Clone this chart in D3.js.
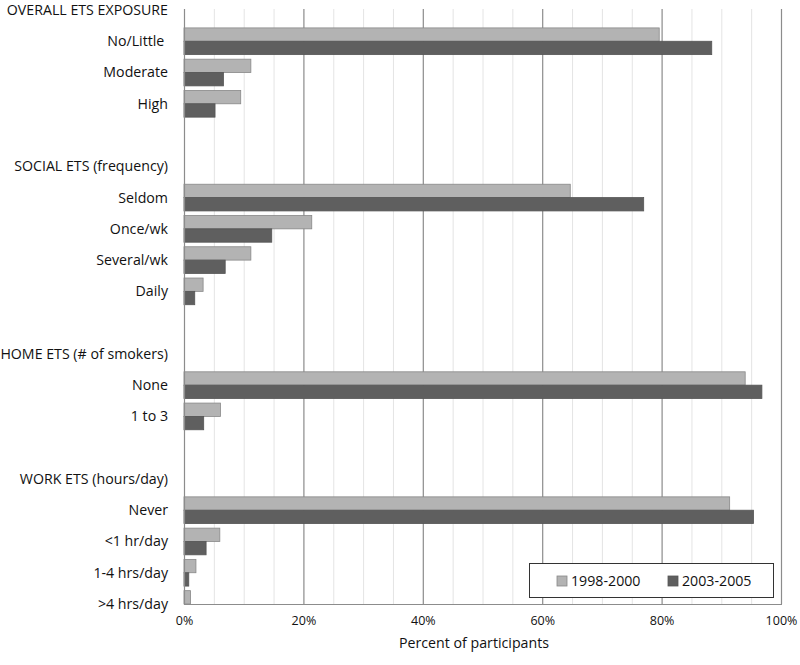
<!DOCTYPE html>
<html><head><meta charset="utf-8">
<script src="https://cdn.jsdelivr.net/npm/d3@7"></script>
<style>body{margin:0;background:#fff}svg{display:block}text{font-family:"Open Sans",sans-serif;fill:#111}</style>
</head><body><svg id="c" width="800" height="665"></svg>
<script>
const rows = ["OVERALL ETS EXPOSURE","No/Little ","Moderate","High","_b1",
  "SOCIAL ETS (frequency)","Seldom","Once/wk","Several/wk","Daily","_b2",
  "HOME ETS (# of smokers)","None","1 to 3","_b3",
  "WORK ETS (hours/day)","Never","<1 hr/day","1-4 hrs/day",">4 hrs/day"];
const categories = ["No/Little ","Moderate","High","Seldom","Once/wk","Several/wk","Daily","None","1 to 3","Never","<1 hr/day","1-4 hrs/day",">4 hrs/day"];
const series1998 = [79.6,11.2,9.5,64.7,21.4,11.2,3.2,94.0,6.1,91.4,6.0,2.0,1.1];
const series2003 = [88.4,6.6,5.2,77.0,14.7,6.9,1.8,96.8,3.3,95.4,3.7,0.8,0];
const seriesNames = ["1998-2000","2003-2005"];
const xTicks = [0,20,40,60,80,100];

const svg = d3.select("#c");
const x = d3.scaleLinear().domain([0,100]).range([184,781]);
const y = d3.scalePoint().domain(rows).range([10,604]);
const bh = y.step()*0.427;
const plotTop = 9, plotBottom = 604;

// minor gridlines
svg.append("g").selectAll("line").data(d3.range(5,100,5).filter(v=>v%20!==0)).join("line")
  .attr("x1",d=>x(d)+0.5).attr("x2",d=>x(d)+0.5).attr("y1",plotTop).attr("y2",plotBottom)
  .attr("stroke","#e4e4e4").attr("stroke-width",1);
// major gridlines
svg.append("g").selectAll("line").data(xTicks.slice(1)).join("line")
  .attr("x1",d=>x(d)+0.5).attr("x2",d=>x(d)+0.5).attr("y1",plotTop).attr("y2",plotBottom)
  .attr("stroke","#8c8c8c").attr("stroke-width",1.2);

// bars
const g = svg.append("g");
g.selectAll("rect.a").data(categories).join("rect").attr("class","a")
  .attr("x",x(0)).attr("y",d=>y(d)-bh).attr("height",bh)
  .attr("width",(d,i)=>x(series1998[i])-x(0))
  .attr("fill","#b3b3b3").attr("stroke","#888").attr("stroke-width",0.8);
g.selectAll("rect.b").data(categories).join("rect").attr("class","b")
  .attr("x",x(0)).attr("y",d=>y(d)).attr("height",bh)
  .attr("width",(d,i)=>x(series2003[i])-x(0))
  .attr("fill","#5f5f5f").attr("stroke","#555").attr("stroke-width",0.8);

// axes lines
svg.append("line").attr("x1",x(0)+0.5).attr("x2",x(0)+0.5).attr("y1",plotTop).attr("y2",plotBottom)
  .attr("stroke","#8c8c8c").attr("stroke-width",1.2);
svg.append("line").attr("x1",x(0)).attr("x2",x(100)+1).attr("y1",plotBottom+0.5).attr("y2",plotBottom+0.5)
  .attr("stroke","#8c8c8c").attr("stroke-width",1.2);

// x axis via d3 axis
const xa = svg.append("g").attr("transform",`translate(0,${plotBottom})`)
  .call(d3.axisBottom(x).tickValues(xTicks).tickFormat(d=>d+"%").tickSize(0).tickPadding(12));
xa.select(".domain").remove();
xa.selectAll("text").style("font-family","'Open Sans',sans-serif").style("font-size","12.5px").attr("fill","#222");

// y labels
svg.append("g").selectAll("text").data(rows.filter(r=>!r.startsWith("_"))).join("text")
  .attr("x",168).attr("y",d=>y(d)).attr("dy","0.35em").attr("text-anchor","end")
  .style("white-space","pre").style("font-size","14.2px").text(d=>d);

// axis title
svg.append("text").attr("x",474).attr("y",643).attr("dy","0.35em").attr("text-anchor","middle")
  .style("font-size","14.2px").text("Percent of participants");

// legend
const lg = svg.append("g");
lg.append("rect").attr("x",529.5).attr("y",563.5).attr("width",244).attr("height",34)
  .attr("fill","#fff").attr("stroke","#333").attr("stroke-width",1);
const lx = [557,668];
const lc = ["#b3b3b3","#5f5f5f"], ls=["#888","#555"];
seriesNames.forEach((n,i)=>{
  lg.append("rect").attr("x",lx[i]).attr("y",576).attr("width",10).attr("height",10)
    .attr("fill",lc[i]).attr("stroke",ls[i]).attr("stroke-width",0.8);
  lg.append("text").attr("x",lx[i]+14).attr("y",581).attr("dy","0.35em")
    .style("font-size","14.2px").text(n);
});
</script></body></html>
